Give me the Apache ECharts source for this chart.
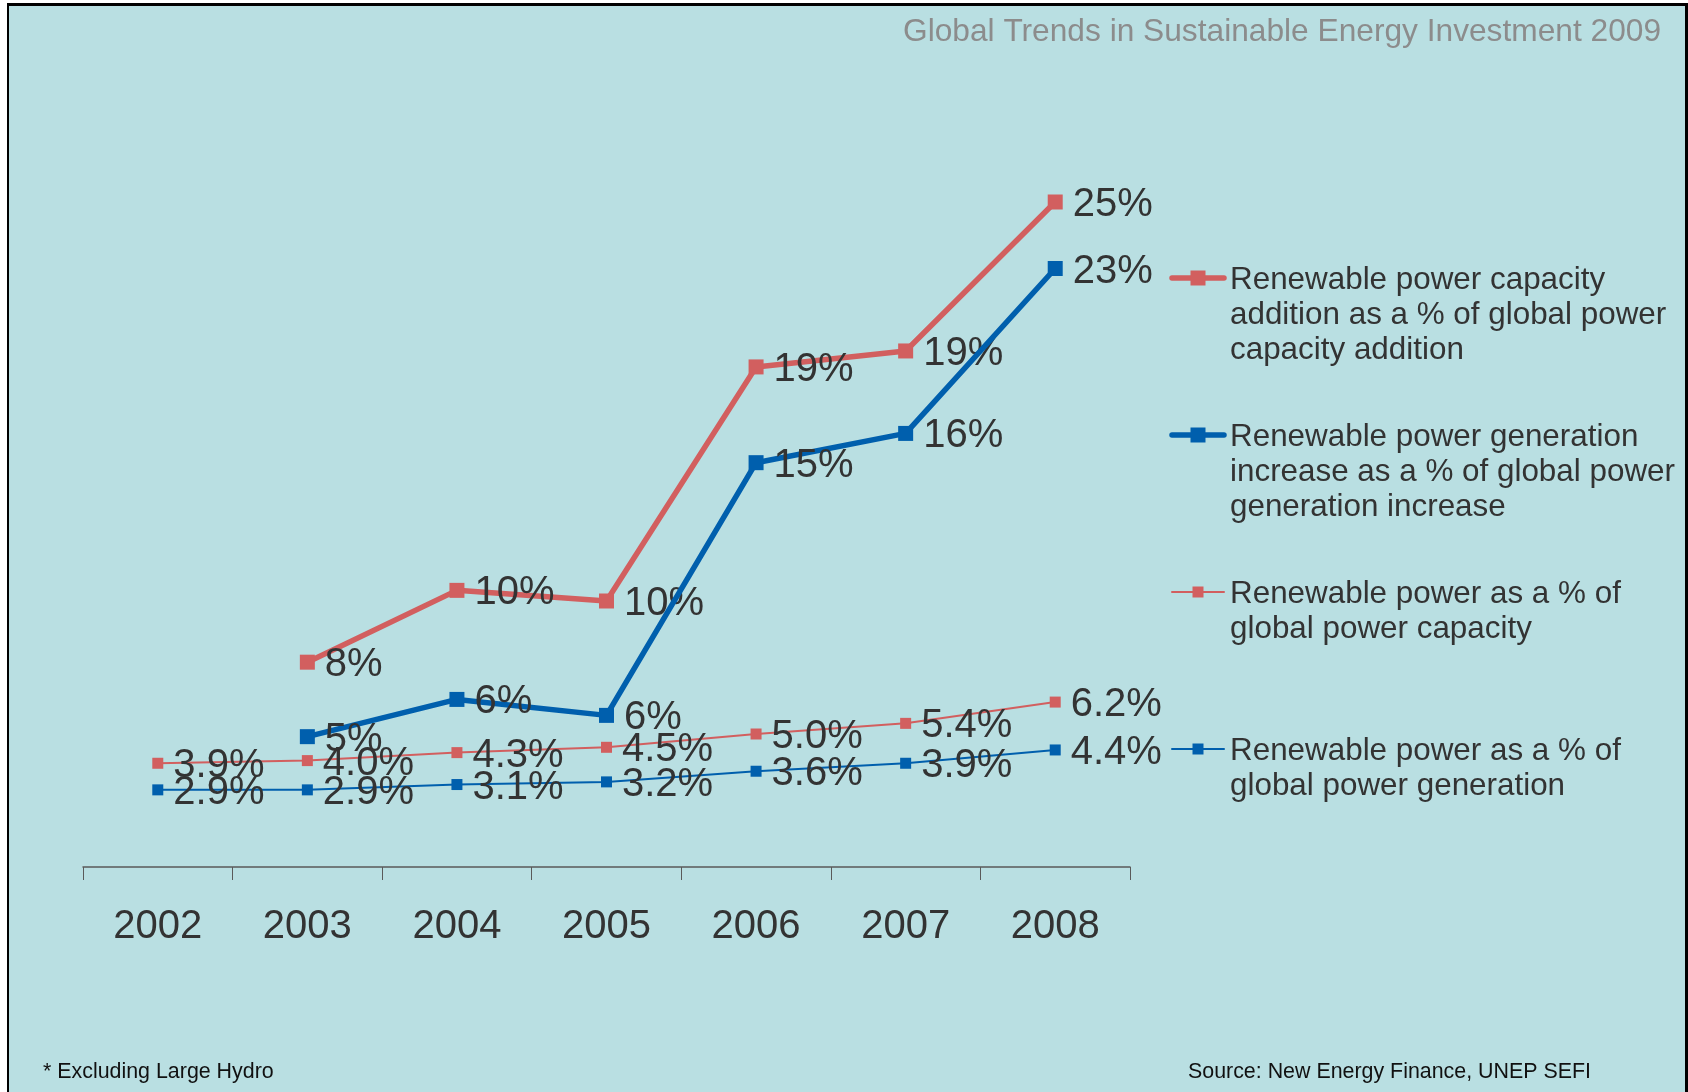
<!DOCTYPE html>
<html>
<head>
<meta charset="utf-8">
<script src="https://cdn.jsdelivr.net/npm/echarts@6/dist/echarts.min.js"></script>
<style>
html,body{margin:0;padding:0;background:#fff;}
#chart{width:1688px;height:1092px;}
</style>
</head>
<body>
<div id="chart"></div>
<script>
const years = ['2002','2003','2004','2005','2006','2007','2008'];
const capacityAddition = [null, 7.7, 10.4, 10.0, 18.8, 19.4, 25.0];
const generationIncrease = [null, 4.9, 6.3, 5.7, 15.2, 16.3, 22.5];
const shareCapacity = [3.9, 4.0, 4.3, 4.5, 5.0, 5.4, 6.2];
const shareGeneration = [2.9, 2.9, 3.1, 3.2, 3.6, 3.9, 4.4];
const seriesNames = [
  'Renewable power capacity\naddition as a % of global power\ncapacity addition',
  'Renewable power generation\nincrease as a % of global power\ngeneration increase',
  'Renewable power as a % of\nglobal power capacity',
  'Renewable power as a % of\nglobal power generation'
];
const titleText = 'Global Trends in Sustainable Energy Investment 2009';
const footLeft = '* Excluding Large Hydro';
const footRight = 'Source: New Energy Finance, UNEP SEFI';

const RED = '#D25F5F', BLUE = '#005FAD', BG = '#B9DFE2';
const FONT = '"Liberation Sans", Arial, sans-serif';

const chart = echarts.init(document.getElementById('chart'), null, {renderer: 'canvas'});

function lbl(dec) {
  return {
    show: true, position: 'right', distance: 10, offset: [0, 3],
    fontSize: 40, color: '#333333', fontFamily: FONT,
    formatter: p => (dec ? p.value.toFixed(1) : Math.round(p.value)) + '%'
  };
}
function mkSeries(name, data, color, lw, ms, dec, z) {
  return {
    name: name, type: 'line', data: data, z: z,
    symbol: 'rect', symbolSize: ms, showSymbol: true,
    connectNulls: false,
    lineStyle: {color: color, width: lw},
    itemStyle: {color: color},
    label: lbl(dec),
    emphasis: {disabled: true},
    animation: false
  };
}

// legend drawn as graphics (icon aligned with first text line)
const legendY = [280, 437, 594, 751];
const legendStyle = [
  {color: RED, lw: 5.5, ms: 15},
  {color: BLUE, lw: 5.5, ms: 15},
  {color: RED, lw: 2, ms: 11},
  {color: BLUE, lw: 2, ms: 11}
];
const graphics = [
  {type: 'rect', shape: {x: 0, y: 0, width: 1688, height: 1092}, style: {fill: '#ffffff'}, z: -10, silent: true},
  {type: 'rect', shape: {x: 8, y: 5, width: 1677, height: 1087}, style: {fill: BG}, z: -9, silent: true},
  {type: 'rect', shape: {x: 7, y: 3, width: 1681, height: 3}, style: {fill: '#000'}, z: -8, silent: true},
  {type: 'rect', shape: {x: 7, y: 3, width: 2, height: 1089}, style: {fill: '#000'}, z: -8, silent: true},
  {type: 'rect', shape: {x: 1685, y: 3, width: 3, height: 1089}, style: {fill: '#000'}, z: -8, silent: true},
  {type: 'text', left: 43, top: 1062, style: {text: footLeft, font: '21.4px ' + FONT, fill: '#111'}},
  {type: 'text', right: 97, top: 1062, style: {text: footRight, font: '21.4px ' + FONT, fill: '#111', textAlign: 'right'}}
];
seriesNames.forEach((n, i) => {
  const s = legendStyle[i], y = legendY[i];
  graphics.push({type: 'line', shape: {x1: 1172, y1: y - 2, x2: 1224, y2: y - 2},
    style: {stroke: s.color, lineWidth: s.lw, lineCap: 'round'}});
  graphics.push({type: 'rect', shape: {x: 1198 - s.ms / 2, y: y - 2 - s.ms / 2, width: s.ms, height: s.ms},
    style: {fill: s.color}});
  graphics.push({type: 'text', x: 1230, y: y - 17,
    style: {text: n, font: '31.4px ' + FONT, fill: '#333333', lineHeight: 35, textVerticalAlign: 'top'}});
});

chart.setOption({
  backgroundColor: 'transparent',
  animation: false,
  title: {
    text: titleText, right: 22, top: 11,
    textStyle: {fontSize: 31.7, fontWeight: 'normal', color: '#8C8C8C', fontFamily: FONT}
  },
  grid: {left: 83, right: 558, top: 69, bottom: 225, containLabel: false},
  xAxis: {
    type: 'category', data: years, boundaryGap: true,
    axisLine: {show: true, lineStyle: {color: '#5A5A5A', width: 1.5}},
    axisTick: {show: true, length: 13, lineStyle: {color: '#5A5A5A', width: 1}},
    axisLabel: {fontSize: 40, color: '#333333', fontFamily: FONT, margin: 40}
  },
  yAxis: {type: 'value', min: 0, max: 30, show: false, splitLine: {show: false}},
  series: [
    mkSeries(seriesNames[0], capacityAddition, RED, 5.5, 15, false, 4),
    mkSeries(seriesNames[1], generationIncrease, BLUE, 5.5, 15, false, 5),
    mkSeries(seriesNames[2], shareCapacity, RED, 2, 11, true, 2),
    mkSeries(seriesNames[3], shareGeneration, BLUE, 2, 11, true, 3)
  ],
  graphic: graphics
});
</script>
</body>
</html>
